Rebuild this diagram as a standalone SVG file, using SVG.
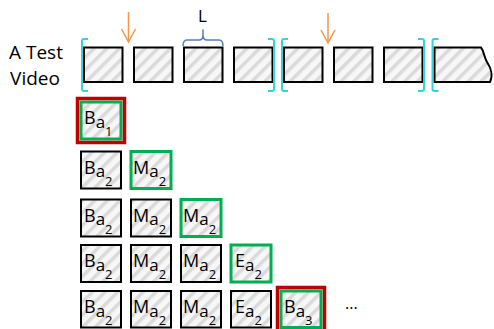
<svg xmlns="http://www.w3.org/2000/svg" width="494" height="329" viewBox="0 0 494 329">
<style>
.t{font-family:"Open Sans","Liberation Sans",sans-serif;fill:#000}
.lbl{font-size:19px}
.bx{font-size:18px}
.sa{font-size:17px}
.sd{font-size:13px}
.fr{fill:url(#h);stroke:#000;stroke-width:2}
.gr{fill:url(#h);stroke:#00b050;stroke-width:3}
.rd{fill:none;stroke:#c00000;stroke-width:3.5}
.br{fill:none;stroke:#33d3d8;stroke-width:2}
.ar{fill:none;stroke:#f79646;stroke-width:1.5}
.bl{fill:none;stroke:#4f81bd;stroke-width:1.5}
</style>
<defs>
<pattern id="h" width="9" height="9" patternUnits="userSpaceOnUse" patternTransform="rotate(45)">
<rect width="9" height="9" fill="#f7f7f7"/>
<rect width="3.5" height="9" fill="#dadada"/>
</pattern>
<marker id="ah" viewBox="-14 -8 16 16" refX="0" refY="0" markerWidth="16" markerHeight="16" markerUnits="userSpaceOnUse" orient="auto" overflow="visible">
<path d="M-13,-7 L0,0 L-13,7" fill="none" stroke="#f79646" stroke-width="1.5"/>
</marker>
</defs>
<rect width="494" height="329" fill="#fff"/>

<g id="label">
<text class="t lbl" x="36" y="59" text-anchor="middle">A Test</text>
<text class="t lbl" x="35" y="85" text-anchor="middle">Video</text>
</g>

<g id="video">
<rect class="fr" x="84" y="47.5" width="38.5" height="34.5"/>
<rect class="fr" x="134" y="47.5" width="38.5" height="34.5"/>
<rect class="fr" x="184" y="47.5" width="38.5" height="34.5"/>
<rect class="fr" x="234" y="47.5" width="38.5" height="34.5"/>
<rect class="fr" x="284" y="47.5" width="38.5" height="34.5"/>
<rect class="fr" x="334" y="47.5" width="38.5" height="34.5"/>
<rect class="fr" x="384" y="47.5" width="38.5" height="34.5"/>
<path class="fr" d="M434.5,47.5 L481,47.5 C484,51 484,57 487,62 C491,68 493,76 490,82 L434.5,82 Z"/>
</g>

<g id="brackets">
<path class="br" d="M88,39 L84,39 Q82,39 82,41 L82,89 Q82,91 84,91 L88,91"/>
<path class="br" d="M268,39 L272,39 Q274,39 274,41 L274,89 Q274,91 272,91 L268,91"/>
<path class="br" d="M288,39 L284,39 Q282,39 282,41 L282,89 Q282,91 284,91 L288,91"/>
<path class="br" d="M418,39 L422,39 Q424,39 424,41 L424,89 Q424,91 422,91 L418,91"/>
<path class="br" d="M438.5,39 L434.5,39 Q432.5,39 432.5,41 L432.5,89 Q432.5,91 434.5,91 L438.5,91"/>
</g>

<g id="length">
<path class="bl" d="M183,46 Q183,40 187,40 L199,40 Q203,40 203,35 L203,29.5 M203,35 Q203,40 207,40 L219,40 Q223,40 223,46"/>
<text class="t" x="202.5" y="21.5" text-anchor="middle" font-size="17">L</text>
</g>

<g id="connectors">
<path class="ar" d="M128.5,12 L128.5,42" marker-end="url(#ah)"/>
<path class="ar" d="M328,13 L328,43" marker-end="url(#ah)"/>
</g>

<g id="row1">
<rect class="gr" x="81" y="102" width="40" height="37"/>
<rect class="rd" x="77.5" y="98.5" width="47" height="44"/>
<text class="t bx" x="84" y="124">B<tspan class="sa" dy="3.5">a</tspan><tspan class="sd" dy="8.5">1</tspan></text>
</g>

<g id="row2">
<rect class="fr" x="81" y="151.5" width="40" height="37"/>
<text class="t bx" x="84" y="173.5">B<tspan class="sa" dy="3.5">a</tspan><tspan class="sd" dy="8.5">2</tspan></text>
<rect class="gr" x="131" y="151.5" width="40" height="37"/>
<text class="t bx" x="133" y="173.5">M<tspan class="sa" dy="3.5">a</tspan><tspan class="sd" dy="8.5">2</tspan></text>
</g>

<g id="row3">
<rect class="fr" x="81" y="199.5" width="40" height="37"/>
<text class="t bx" x="84" y="221.5">B<tspan class="sa" dy="3.5">a</tspan><tspan class="sd" dy="8.5">2</tspan></text>
<rect class="fr" x="131" y="199.5" width="40" height="37"/>
<text class="t bx" x="133" y="221.5">M<tspan class="sa" dy="3.5">a</tspan><tspan class="sd" dy="8.5">2</tspan></text>
<rect class="gr" x="181" y="199.5" width="40" height="37"/>
<text class="t bx" x="183" y="221.5">M<tspan class="sa" dy="3.5">a</tspan><tspan class="sd" dy="8.5">2</tspan></text>
</g>

<g id="row4">
<rect class="fr" x="81" y="245" width="40" height="37"/>
<text class="t bx" x="84" y="267">B<tspan class="sa" dy="3.5">a</tspan><tspan class="sd" dy="8.5">2</tspan></text>
<rect class="fr" x="131" y="245" width="40" height="37"/>
<text class="t bx" x="133" y="267">M<tspan class="sa" dy="3.5">a</tspan><tspan class="sd" dy="8.5">2</tspan></text>
<rect class="fr" x="181" y="245" width="40" height="37"/>
<text class="t bx" x="183" y="267">M<tspan class="sa" dy="3.5">a</tspan><tspan class="sd" dy="8.5">2</tspan></text>
<rect class="gr" x="231" y="245" width="40" height="37"/>
<text class="t bx" x="235" y="267">E<tspan class="sa" dy="3.5">a</tspan><tspan class="sd" dy="8.5">2</tspan></text>
</g>

<g id="row5">
<rect class="fr" x="81" y="291" width="40" height="36.5"/>
<text class="t bx" x="84" y="313">B<tspan class="sa" dy="3.5">a</tspan><tspan class="sd" dy="8.5">2</tspan></text>
<rect class="fr" x="131" y="291" width="40" height="36.5"/>
<text class="t bx" x="133" y="313">M<tspan class="sa" dy="3.5">a</tspan><tspan class="sd" dy="8.5">2</tspan></text>
<rect class="fr" x="181" y="291" width="40" height="36.5"/>
<text class="t bx" x="183" y="313">M<tspan class="sa" dy="3.5">a</tspan><tspan class="sd" dy="8.5">2</tspan></text>
<rect class="fr" x="231" y="291" width="40" height="36.5"/>
<text class="t bx" x="235" y="313">E<tspan class="sa" dy="3.5">a</tspan><tspan class="sd" dy="8.5">2</tspan></text>
<rect class="gr" x="281" y="291" width="40" height="36.5"/>
<rect class="rd" x="277.5" y="287.5" width="47" height="44"/>
<text class="t bx" x="284" y="313">B<tspan class="sa" dy="3.5">a</tspan><tspan class="sd" dy="8.5">3</tspan></text>
<text class="t" x="345" y="309" font-size="16">...</text>
</g>
</svg>
